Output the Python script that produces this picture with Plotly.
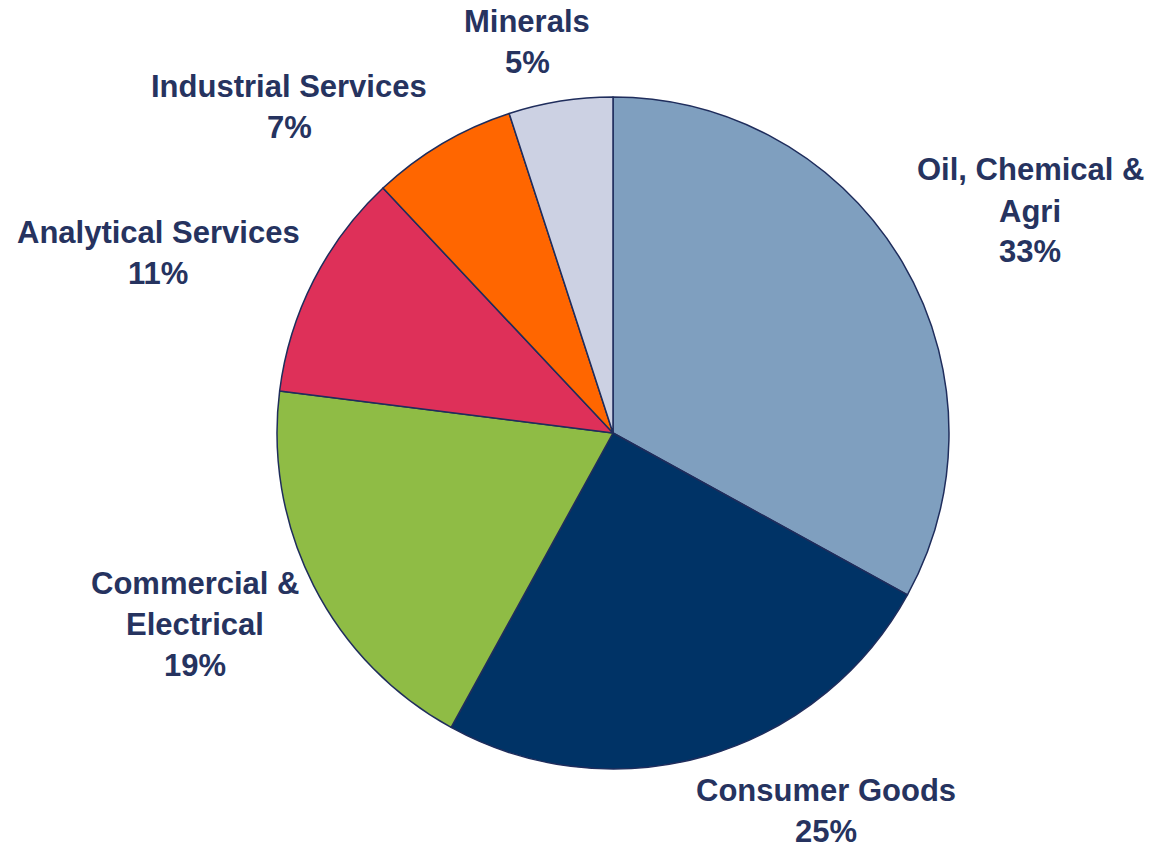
import plotly.graph_objects as go

# Revenue split by business line (%)
segments = ["Oil, Chemical & Agri", "Consumer Goods", "Commercial & Electrical",
            "Analytical Services", "Industrial Services", "Minerals"]
shares = [33, 25, 19, 11, 7, 5]
colors = ["#7F9FBF", "#003366", "#8FBC45", "#DE3059", "#FF6600", "#CCD1E3"]

# Label lines as drawn beside each slice
label_lines = [
    ["Oil, Chemical &", "Agri", "33%"],
    ["Consumer Goods", "25%"],
    ["Commercial &", "Electrical", "19%"],
    ["Analytical Services", "11%"],
    ["Industrial Services", "7%"],
    ["Minerals", "5%"],
]
label_pos = [(1030, 170), (826, 790), (195, 583), (158, 232), (289, 86), (527, 22)]

W, H = 1149, 850
cx, cy, r = 613, 433, 336
LINE = 41
text_color = "#26335F"

fig = go.Figure(go.Pie(
    labels=segments,
    values=shares,
    sort=False,
    direction="clockwise",
    rotation=0,
    marker=dict(colors=colors, line=dict(color="#1F2D5C", width=1.5)),
    textinfo="none",
    hoverinfo="label+percent",
    showlegend=False,
    domain=dict(x=[(cx - r) / W, (cx + r) / W], y=[1 - (cy + r) / H, 1 - (cy - r) / H]),
))

annotations = []
for lines, (x, y) in zip(label_lines, label_pos):
    for i, line in enumerate(lines):
        annotations.append(dict(
            x=x / W, y=1 - (y + i * LINE) / H, xref="paper", yref="paper",
            text=line, showarrow=False, xanchor="center", yanchor="middle",
            borderpad=0,
            font=dict(family="Liberation Sans, Arial", size=31, color=text_color, weight="bold"),
        ))

fig.update_layout(
    width=W, height=H,
    margin=dict(l=0, r=0, t=0, b=0),
    paper_bgcolor="white", plot_bgcolor="white",
    annotations=annotations,
)

fig.write_html("out.html")
